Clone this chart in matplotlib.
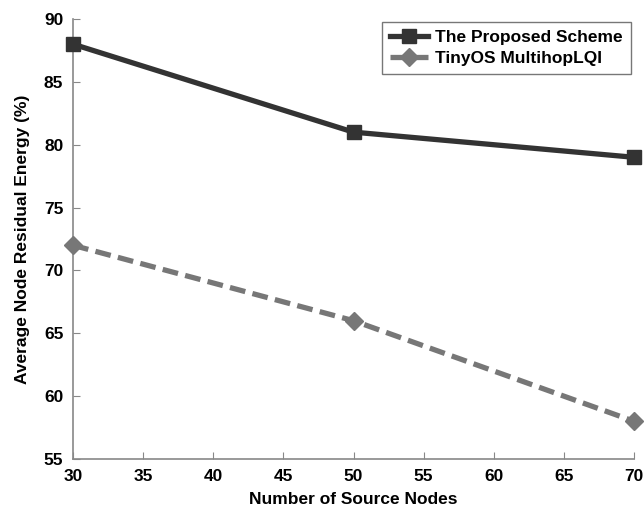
import matplotlib
matplotlib.use("Agg")
import matplotlib.pyplot as plt

nodes = [30, 50, 70]
proposed = [88, 81, 79]
tinyos = [72, 66, 58]
xticks = [30, 35, 40, 45, 50, 55, 60, 65, 70]
yticks = [55, 60, 65, 70, 75, 80, 85, 90]

plt.rcParams['font.family'] = ['Liberation Sans', 'DejaVu Sans']
plt.rcParams['font.weight'] = 'bold'

fig = plt.figure(figsize=(6.44, 5.13), dpi=100)
ax = fig.add_axes([73 / 644, 1 - 459 / 513, (634 - 73) / 644, (459 - 19) / 513])

ax.plot(nodes, proposed, color='#333333', lw=3.8, marker='s', ms=10,
        label='The Proposed Scheme', clip_on=False, zorder=3)
ax.plot(nodes, tinyos, color='#777777', lw=3.8, ls=(0, (3, 1.4)), marker='D',
        ms=9.5, label='TinyOS MultihopLQI', clip_on=False, zorder=3)

ax.set_xlim(30, 70)
ax.set_ylim(55, 90)
ax.set_xticks(xticks)
ax.set_yticks(yticks)
for s in ['top', 'right']:
    ax.spines[s].set_visible(False)
for s in ['left', 'bottom']:
    ax.spines[s].set_color('#888888')
    ax.spines[s].set_linewidth(1.2)
ax.tick_params(direction='in', length=5, color='#888888', labelsize=12.5, pad=7)
for lab in ax.get_xticklabels() + ax.get_yticklabels():
    lab.set_fontweight('bold')

ax.set_xlabel('Number of Source Nodes', fontsize=12.5, fontweight='bold', labelpad=6)
ax.set_ylabel('Average Node Residual Energy (%)', fontsize=12.5, fontweight='bold', labelpad=10)

leg = ax.legend(loc='upper right', bbox_to_anchor=(1.0, 1.0), fontsize=12.5,
                frameon=True, fancybox=False, handlelength=2.2, borderpad=0.45,
                labelspacing=0.3, handletextpad=0.4, borderaxespad=0.2)
leg.get_frame().set_edgecolor('#555555')
leg.get_frame().set_linewidth(1)
for t in leg.get_texts():
    t.set_fontweight('bold')

fig.savefig('out.png', dpi=100)
